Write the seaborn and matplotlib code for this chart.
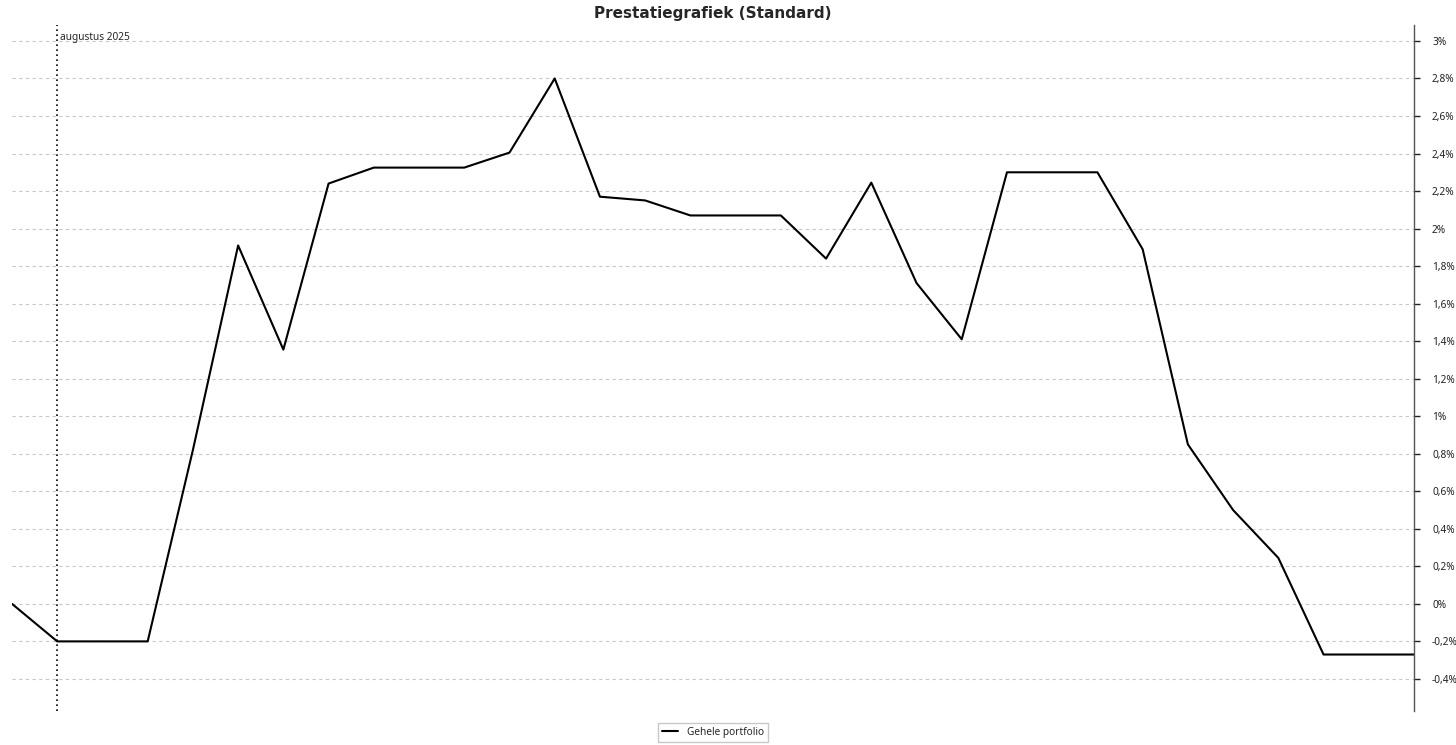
import pandas as pd
import matplotlib
matplotlib.use("Agg")
import matplotlib.pyplot as plt
import seaborn as sns

# data (percent), one point per step
steps = list(range(32))
rendement = [0.0, -0.2, -0.2, -0.2, 0.82, 1.91, 1.355, 2.24, 2.325, 2.325,
             2.325, 2.405, 2.8, 2.17, 2.15, 2.07, 2.07, 2.07, 1.84, 2.245,
             1.71, 1.41, 2.30, 2.30, 2.30, 1.89, 0.85, 0.50, 0.245, -0.27,
             -0.27, -0.27]
yticks = [-0.4, -0.2, 0, 0.2, 0.4, 0.6, 0.8, 1, 1.2, 1.4, 1.6, 1.8, 2.0,
          2.2, 2.4, 2.6, 2.8, 3.0]
marker_step = 1
marker_label = "augustus 2025"
series_name = "Gehele portfolio"

df = pd.DataFrame({"stap": steps, "rendement": rendement})

sns.set_style("white")
plt.rcParams["font.family"] = ["Noto Sans", "DejaVu Sans"]

fig = plt.figure(figsize=(14.56, 7.45), dpi=100)
ax = fig.add_axes([12 / 1456, 1 - 711 / 745, (1414 - 12) / 1456, (711 - 25) / 745])

sns.lineplot(data=df, x="stap", y="rendement", color="black", linewidth=1.5,
             label=series_name, ax=ax)

ax.set_xlim(0, 31)
ax.set_ylim(-0.571, 3.085)
ax.set_yticks(yticks)
ax.set_yticklabels([(f"{v:g}".replace(".", ",") + "%") for v in yticks], fontsize=7.3, color="#222222")
ax.yaxis.tick_right()
ax.tick_params(axis="y", direction="out", length=4, width=1, pad=9, colors="#222222")
ax.set_xticks([])
ax.set_xlabel("")
ax.set_ylabel("")

for s in ["left", "top", "bottom"]:
    ax.spines[s].set_visible(False)
ax.spines["right"].set_color("#555555")
ax.spines["right"].set_linewidth(1)

ax.yaxis.grid(True, linestyle=(0, (3, 3)), color="#c8c8c8", linewidth=0.8)
ax.set_axisbelow(True)

ax.axvline(marker_step, color="black", linestyle=(0, (1, 2)), linewidth=1.2)
ax.text(marker_step + 0.07, 3.02, marker_label, fontsize=7.3, va="center", ha="left")

ax.set_title("Prestatiegrafiek (Standard)", fontsize=11, fontweight="bold",
             family="DejaVu Sans", pad=5)

ax.legend(loc="upper center", bbox_to_anchor=(0.5, -0.01), frameon=True,
          fancybox=False, edgecolor="#bbbbbb", fontsize=7.3, handlelength=1.6,
          borderpad=0.4)

fig.savefig("out.png", dpi=100)
